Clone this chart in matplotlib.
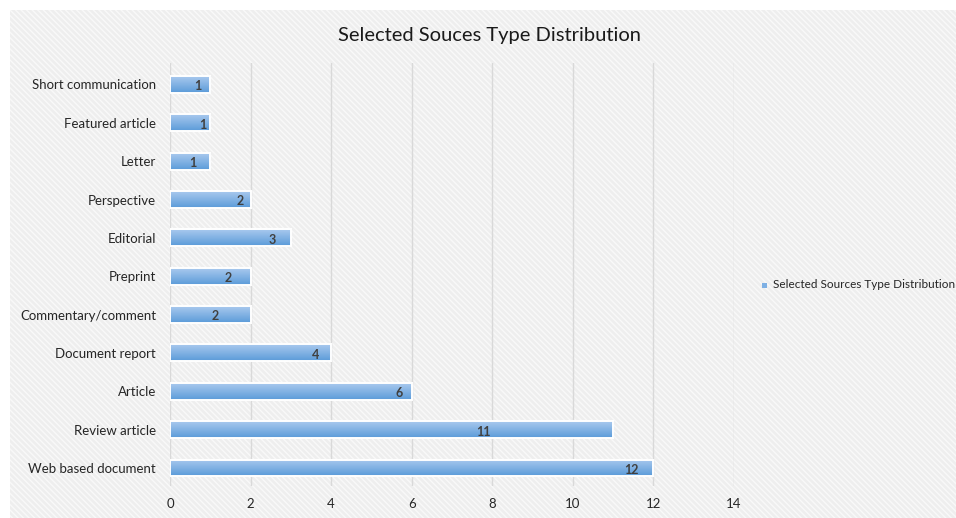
import numpy as np
import matplotlib.pyplot as plt
from matplotlib.colors import LinearSegmentedColormap
from matplotlib.patches import Rectangle

plt.rcParams['font.family'] = ['Lato', 'DejaVu Sans']

# source types, top to bottom
categories = ['Short communication', 'Featured article', 'Letter', 'Perspective',
              'Editorial', 'Preprint', 'Commentary/comment', 'Document report',
              'Article', 'Review article', 'Web based document']
counts = [1, 1, 1, 2, 3, 2, 2, 4, 6, 11, 12]
# where each count label sits, measured back from the bar end
label_shift = [0.30, 0.18, 0.43, 0.26, 0.47, 0.56, 0.88, 0.38, 0.32, 3.23, 0.55]

fig = plt.figure(figsize=(9.56, 5.18), dpi=100)

# striped chart-area background
plt.rcParams['hatch.linewidth'] = 1.0
bg = Rectangle((10 / 956, 0), 1, 1 - 10 / 518, transform=fig.transFigure,
               facecolor='#eeeeee', edgecolor='#f9f9f9', hatch='\\\\\\\\\\\\',
               linewidth=0, zorder=-10)
fig.patches.append(bg)

ax = fig.add_axes([170 / 956, 1 - 486 / 518, (734 - 170) / 956, (486 - 63) / 518])
ax.patch.set_alpha(0)

y = np.arange(len(categories))[::-1]
bars = ax.barh(y, counts, height=0.44, color='none', edgecolor='white',
               linewidth=1.4, zorder=3)

cmap = LinearSegmentedColormap.from_list('bar', ['#5b9bd9', '#a9c9ee'])
grad = np.linspace(0, 1, 64).reshape(-1, 1)
for b in bars:
    x0, y0 = b.get_x(), b.get_y()
    w, h = b.get_width(), b.get_height()
    im = ax.imshow(grad, cmap=cmap, aspect='auto', extent=(x0, x0 + w, y0 + h, y0),
                   origin='upper', zorder=2, interpolation='bilinear')
    im.set_clip_path(b)

for yi, v, s in zip(y, counts, label_shift):
    ax.text(v - s, yi - 0.05, str(v), ha='center', va='center', fontsize=9,
            fontweight='bold', color='#404040', zorder=4)

ax.set_xlim(0, 14)
ax.set_ylim(-0.47, len(categories) - 0.44)
ax.set_xticks(range(0, 15, 2))
ax.set_yticks(y)
ax.set_yticklabels(categories)
ax.tick_params(axis='both', length=0, labelsize=9.5, colors='#262626')
ax.tick_params(axis='x', pad=9)
ax.tick_params(axis='y', pad=10)
ax.grid(axis='x', color='#d9d9d9', linewidth=1.0, zorder=0)
ax.set_axisbelow(True)
for sp in ax.spines.values():
    sp.set_visible(False)

fig.text(489 / 956, 1 - 35 / 518, 'Selected Souces Type Distribution',
         ha='center', va='center', fontsize=14.5, color='#1a1a1a')

# legend entry
fig.patches.append(Rectangle((762 / 956, 1 - 288 / 518), 5 / 956, 5 / 518,
                             transform=fig.transFigure, facecolor='#7eb0e4',
                             edgecolor='none'))
fig.text(773 / 956, 1 - 285 / 518, 'Selected Sources Type Distribution',
         ha='left', va='center', fontsize=8.5, color='#262626')

fig.savefig('out.png', dpi=100)
